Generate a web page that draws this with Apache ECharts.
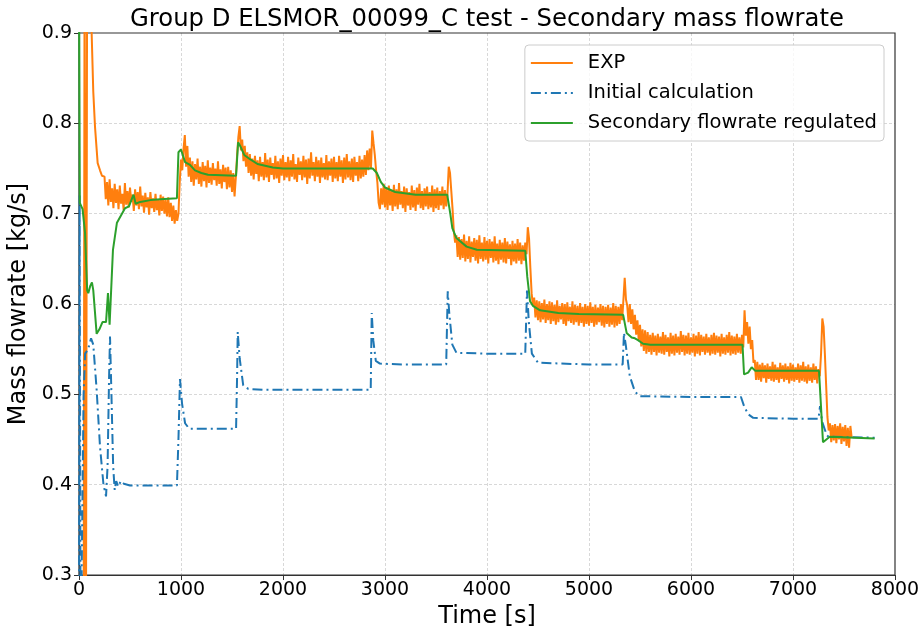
<!DOCTYPE html>
<html><head><meta charset="utf-8">
<script src="https://cdn.jsdelivr.net/npm/echarts/dist/echarts.min.js"></script>
<style>html,body{margin:0;padding:0;background:#fff}#c{width:921px;height:629px}</style>
</head><body><div id="c"></div>
<script>
// ---------- DATA ----------
const titleText = 'Group D ELSMOR_00099_C test - Secondary mass flowrate';
const xTicks = [0, 1000, 2000, 3000, 4000, 5000, 6000, 7000, 8000];
const yTicks = [0.3, 0.4, 0.5, 0.6, 0.7, 0.8, 0.9];
const seriesNames = ['EXP', 'Initial calculation', 'Secondary flowrate regulated'];

// EXP: start-up transient (explicit times)
const expEarlyTime  = [0, 45, 55, 68, 80, 115, 124, 140, 157, 183, 206, 225];
const expEarlyValue = [0.2, 0.2, 1.0, 0.2, 1.0, 1.0, 0.9, 0.835, 0.796, 0.756, 0.748, 0.742];
// EXP: measured signal, sampled every 12.5 s; one array per load step, each with its start time
const expStep = 12.5;
const expSegStart = [250, 975, 1550, 2875, 3625, 4400, 5350, 6525, 7275];
const expSeg1 = [
  0.741,0.716,0.735,0.709,0.738,0.713,0.728,0.706,0.733,0.712,
  0.727,0.705,0.731,0.711,0.722,0.704,0.734,0.710,0.725,0.707,
  0.729,0.713,0.721,0.703,0.727,0.709,0.724,0.705,0.730,0.708,
  0.720,0.701,0.723,0.707,0.718,0.699,0.724,0.706,0.717,0.702,
  0.722,0.704,0.716,0.698,0.721,0.703,0.719,0.700,0.715,0.697,
  0.718,0.696,0.712,0.692,0.709,0.689,0.704,0.692];
const expSeg2 = [
  0.700,0.735,0.760,0.748,0.772,0.787,0.752,0.775,0.741,0.762,
  0.735,0.758,0.731,0.755,0.738,0.761,0.733,0.752,0.730,0.757,
  0.736,0.753,0.729,0.759,0.734,0.751,0.732,0.756,0.737,0.750,
  0.731,0.758,0.733,0.749,0.728,0.754,0.735,0.751,0.727,0.752,
  0.729,0.748,0.724,0.745,0.719,0.740];
const expSeg3 = [
  0.765,0.785,0.797,0.770,0.782,0.758,0.775,0.752,0.768,0.745,
  0.766,0.742,0.761,0.738,0.764,0.744,0.759,0.736,0.763,0.741,
  0.757,0.737,0.767,0.740,0.760,0.735,0.762,0.743,0.756,0.738,
  0.764,0.739,0.758,0.734,0.761,0.742,0.765,0.737,0.757,0.740,
  0.763,0.736,0.759,0.741,0.766,0.738,0.755,0.735,0.762,0.743,
  0.758,0.737,0.764,0.740,0.760,0.733,0.761,0.739,0.768,0.742,
  0.757,0.736,0.763,0.741,0.759,0.734,0.762,0.740,0.756,0.738,
  0.765,0.737,0.758,0.742,0.761,0.735,0.763,0.739,0.757,0.736,
  0.764,0.741,0.759,0.734,0.762,0.738,0.766,0.740,0.758,0.737,
  0.761,0.735,0.763,0.742,0.757,0.736,0.764,0.739,0.760,0.741,
  0.765,0.743,0.770,0.748,0.772,0.750];
const expSeg4 = [
  0.792,0.778,0.765,0.748,0.735,0.712,0.705,0.728,0.710,0.733,
  0.707,0.729,0.704,0.731,0.709,0.726,0.703,0.732,0.708,0.727,
  0.705,0.734,0.710,0.725,0.706,0.730,0.702,0.728,0.709,0.724,
  0.704,0.731,0.707,0.726,0.703,0.729,0.710,0.733,0.706,0.725,
  0.704,0.728,0.708,0.730,0.705,0.724,0.707,0.731,0.702,0.727,
  0.706,0.729,0.704,0.725,0.709,0.730,0.705,0.726,0.708,0.722];
const expSeg5 = [
  0.752,0.745,0.725,0.705,0.680,0.668,0.676,0.652,0.674,0.649,
  0.672,0.651,0.677,0.647,0.670,0.650,0.675,0.646,0.669,0.652,
  0.673,0.648,0.671,0.645,0.676,0.650,0.668,0.647,0.674,0.649,
  0.670,0.645,0.672,0.651,0.669,0.646,0.675,0.648,0.667,0.644,
  0.671,0.649,0.668,0.646,0.673,0.645,0.669,0.650,0.666,0.643,
  0.670,0.647,0.667,0.645,0.672,0.648,0.668,0.644,0.665,0.648,
  0.668,0.655];
const expSeg6 = [
  0.685,0.672,0.640,0.612,0.598,0.607,0.585,0.604,0.582,0.603,
  0.580,0.601,0.583,0.605,0.579,0.600,0.582,0.603,0.578,0.602,
  0.581,0.599,0.577,0.604,0.580,0.598,0.583,0.601,0.578,0.600,
  0.576,0.602,0.581,0.597,0.579,0.603,0.577,0.599,0.580,0.598,
  0.576,0.601,0.579,0.597,0.575,0.600,0.578,0.598,0.576,0.602,
  0.579,0.597,0.575,0.599,0.577,0.596,0.580,0.600,0.576,0.598,
  0.574,0.597,0.578,0.599,0.575,0.596,0.577,0.601,0.574,0.598,
  0.576,0.597,0.578,0.600,0.582,0.605];
const expSeg7 = [
  0.629,0.605,0.598,0.580,0.600,0.578,0.594,0.572,0.588,0.566,
  0.582,0.560,0.577,0.553,0.572,0.548,0.571,0.545,0.569,0.547,
  0.566,0.544,0.568,0.547,0.565,0.543,0.567,0.546,0.564,0.545,
  0.569,0.544,0.566,0.547,0.563,0.542,0.568,0.545,0.565,0.543,
  0.567,0.546,0.564,0.544,0.570,0.547,0.566,0.543,0.565,0.545,
  0.568,0.544,0.563,0.546,0.567,0.542,0.565,0.545,0.569,0.543,
  0.566,0.547,0.564,0.544,0.567,0.546,0.563,0.543,0.566,0.545,
  0.568,0.544,0.565,0.546,0.564,0.542,0.567,0.545,0.563,0.544,
  0.566,0.546,0.569,0.543,0.565,0.545,0.564,0.544,0.567,0.546,
  0.563,0.545,0.566,0.552];
const expSeg8 = [
  0.593,0.565,0.580,0.556,0.575,0.550,0.560,0.535,0.538,0.516,
  0.536,0.516,0.533,0.514,0.535,0.518,0.532,0.513,0.534,0.517,
  0.531,0.515,0.536,0.514,0.533,0.516,0.530,0.513,0.535,0.517,
  0.532,0.514,0.534,0.516,0.531,0.512,0.535,0.515,0.533,0.514,
  0.530,0.516,0.534,0.513,0.532,0.515,0.536,0.514,0.531,0.512,
  0.533,0.515,0.530,0.513,0.534,0.516,0.531,0.512,0.528,0.520];
const expSeg9 = [
  0.545,0.584,0.575,0.545,0.510,0.475,0.460,0.468,0.447,0.466,
  0.449,0.467,0.446,0.465,0.450,0.468,0.445,0.464,0.448,0.466,
  0.443,0.463,0.441,0.465,0.452];

// Initial calculation
const initTime = [0, 6, 14, 24, 45, 60, 90, 118, 140, 173, 206, 240, 265, 280, 295, 304, 318, 335, 350, 365, 385, 410, 440, 500, 800, 960,
  975, 990, 1010, 1040, 1080, 1200, 1540, 1550, 1556, 1575, 1610, 1660, 1800, 2860, 2870, 2885, 2910, 2950, 3200, 3600,
  3615, 3630, 3660, 3700, 4000, 4375, 4392, 4410, 4440, 4500, 5000, 5330, 5343, 5360, 5400, 5450, 5500, 6000, 6490,
  6520, 6560, 6610, 7000, 7250, 7265, 7285, 7330, 7350, 7800];
const initValue = [0.2, 0.72, 0.3, 0.28, 0.50, 0.545, 0.55, 0.562, 0.555, 0.505, 0.442, 0.40, 0.387, 0.42, 0.52, 0.564, 0.50, 0.42, 0.394, 0.404, 0.398, 0.404, 0.401, 0.399, 0.399, 0.399,
  0.45, 0.517, 0.49, 0.468, 0.462, 0.462, 0.462, 0.52, 0.569, 0.54, 0.51, 0.506, 0.505, 0.505, 0.59, 0.56, 0.537, 0.534, 0.533, 0.533,
  0.614, 0.59, 0.555, 0.546, 0.545, 0.545, 0.615, 0.58, 0.545, 0.535, 0.533, 0.533, 0.568, 0.555, 0.52, 0.503, 0.498, 0.497, 0.497,
  0.487, 0.478, 0.474, 0.473, 0.473, 0.487, 0.47, 0.455, 0.453, 0.452];

// Secondary flowrate regulated
const regTime = [0, 8, 20, 35, 59, 80, 91, 110, 127, 140, 173, 200, 230, 265, 284, 300, 333, 372, 421, 451, 490, 520, 535, 555, 600, 700, 800, 960,
  975, 1000, 1040, 1088, 1137, 1200, 1265, 1540, 1560, 1580, 1620, 1680, 1750, 1900, 2000, 2880, 2920, 2960, 3000, 3100, 3300, 3610,
  3640, 3660, 3700, 3800, 3900, 4375, 4395, 4422, 4450, 4520, 4700, 4900, 5335, 5369, 5418, 5450, 5480, 5530, 5600, 6505,
  6520, 6560, 6595, 6630, 7255, 7294, 7360, 7800];
const regValue = [0.95, 0.712, 0.71, 0.705, 0.679, 0.615, 0.612, 0.62, 0.624, 0.615, 0.567, 0.572, 0.58, 0.58, 0.612, 0.577, 0.66, 0.69, 0.70, 0.706, 0.708, 0.717, 0.721, 0.711, 0.713, 0.715, 0.716, 0.717,
  0.768, 0.771, 0.757, 0.754, 0.748, 0.745, 0.743, 0.742, 0.779, 0.775, 0.765, 0.76, 0.755, 0.751, 0.75, 0.75, 0.745, 0.735, 0.729, 0.724, 0.721, 0.721,
  0.70, 0.684, 0.673, 0.6635, 0.66, 0.659, 0.63, 0.603, 0.598, 0.593, 0.590, 0.589, 0.588, 0.568, 0.563, 0.562, 0.560, 0.556, 0.555, 0.555,
  0.522, 0.524, 0.530, 0.526, 0.526, 0.447, 0.453, 0.451];

// ---------- BUILD ----------
const FONT = 'DejaVu Sans';
const expSegs = [expSeg1, expSeg2, expSeg3, expSeg4, expSeg5, expSeg6, expSeg7, expSeg8, expSeg9];
let expData = expEarlyTime.map((t, i) => [t, expEarlyValue[i]]);
expSegs.forEach((seg, k) => {
  seg.forEach((v, i) => expData.push([expSegStart[k] + i * expStep, v]));
});
const initData = initTime.map((t, i) => [t, initValue[i]]);
const regData = regTime.map((t, i) => [t, regValue[i]]);

const gridSplit = {show: true, showMinLine: false, showMaxLine: false,
                   lineStyle: {color: '#d8d8d8', width: 1, type: [3, 2]}};

const chart = echarts.init(document.getElementById('c'), null, {renderer: 'canvas'});
chart.setOption({
  animation: false,
  backgroundColor: '#fff',
  textStyle: {fontFamily: FONT},
  title: {
    text: titleText, left: 482, top: 3, textAlign: 'center',
    textStyle: {fontFamily: FONT, fontSize: 24.3, fontWeight: 'normal', color: '#000'}
  },
  grid: {left: 79, right: 26, top: 33, bottom: 54, show: true, borderColor: '#333', borderWidth: 1.2,
         containLabel: false, outerBoundsMode: 'none', z: 3},
  legend: {
    orient: 'vertical', right: 37, top: 45,
    data: seriesNames,
    itemWidth: 42, itemHeight: 14, itemGap: 10,
    padding: [8, 7, 8, 5],
    itemStyle: {opacity: 0, borderWidth: 0},
    backgroundColor: 'rgba(255,255,255,0.8)', borderColor: '#cccccc', borderWidth: 1, borderRadius: 4,
    textStyle: {fontFamily: FONT, fontSize: 19.5, color: '#000', padding: [0, 0, 0, 10]}
  },
  xAxis: {
    type: 'value', min: xTicks[0], max: xTicks[xTicks.length - 1], interval: 1000,
    name: 'Time [s]', nameLocation: 'middle', nameGap: 28,
    nameTextStyle: {fontFamily: FONT, fontSize: 24, color: '#000'},
    axisLine: {show: true, onZero: false, lineStyle: {color: '#333', width: 1.2}},
    axisTick: {show: true, length: 5, lineStyle: {color: '#333'}},
    axisLabel: {fontFamily: FONT, fontSize: 19, color: '#000', margin: 6, formatter: v => String(Math.round(v))},
    splitLine: gridSplit
  },
  yAxis: {
    type: 'value', min: yTicks[0], max: yTicks[yTicks.length - 1], interval: 0.1,
    name: 'Mass flowrate [kg/s]', nameLocation: 'middle', nameGap: 41,
    nameTextStyle: {fontFamily: FONT, fontSize: 24, color: '#000'},
    axisLine: {show: true, onZero: false, lineStyle: {color: '#333', width: 1.2}},
    axisTick: {show: true, length: 5, lineStyle: {color: '#333'}},
    axisLabel: {fontFamily: FONT, fontSize: 19, color: '#000', margin: 7, formatter: v => v.toFixed(1)},
    splitLine: gridSplit
  },
  series: [
    {name: seriesNames[0], type: 'line', data: expData, symbol: 'none', showSymbol: false, clip: true,
     lineStyle: {color: '#ff7f0e', width: 2}, itemStyle: {color: '#ff7f0e'}},
    {name: seriesNames[1], type: 'line', data: initData, symbol: 'none', showSymbol: false, clip: true,
     lineStyle: {color: '#1f77b4', width: 2, type: [10, 4, 2, 4]}, itemStyle: {color: '#1f77b4'}},
    {name: seriesNames[2], type: 'line', data: regData, symbol: 'none', showSymbol: false, clip: true,
     lineStyle: {color: '#2ca02c', width: 2}, itemStyle: {color: '#2ca02c'}}
  ]
});
</script></body></html>
